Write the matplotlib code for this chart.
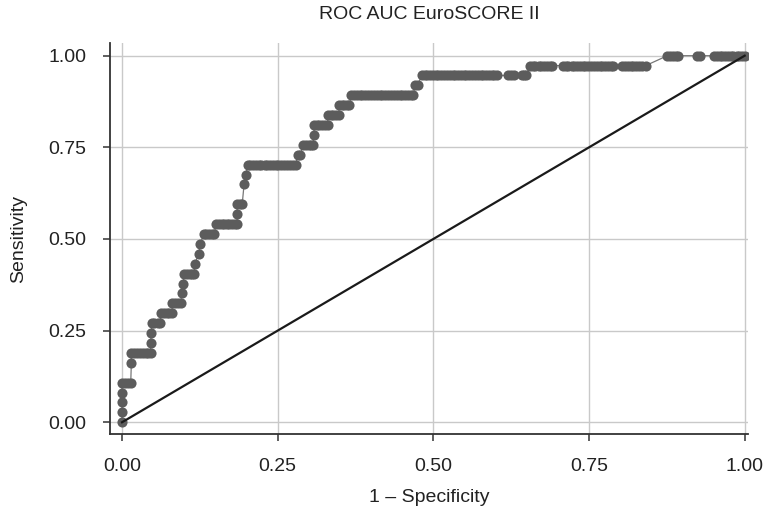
import numpy as np
import matplotlib
matplotlib.use("Agg")
import matplotlib.pyplot as plt

# ROC points, grouped by sensitivity level (k positives of 37)
n_pos = 37
levels = [0, 1, 2, 3, 4, 6, 7, 8, 9, 10, 11, 12, 13, 14, 15, 16, 17, 18, 19, 20,
          21, 22, 24, 25, 26, 27, 28, 29, 30, 31, 32, 33, 34, 35, 36, 37]
fpr_runs = [
    [0.0],
    [0.0],
    [0.0],
    [0.0],
    [0.0, 0.005, 0.009, 0.014],
    [0.015],
    [0.015, 0.020, 0.024, 0.029, 0.033, 0.038, 0.042, 0.046],
    [0.046],
    [0.047],
    [0.048, 0.052, 0.057, 0.061],
    [0.063, 0.067, 0.072, 0.076, 0.080],
    [0.081, 0.085, 0.090, 0.094],
    [0.096],
    [0.098],
    [0.100, 0.104, 0.109, 0.113, 0.116],
    [0.117],
    [0.123],
    [0.126],
    [0.131, 0.135, 0.140, 0.144, 0.148],
    [0.151, 0.155, 0.160, 0.164, 0.168, 0.172, 0.177, 0.181, 0.185],
    [0.185],
    [0.185, 0.189, 0.193],
    [0.196],
    [0.199],
    [0.202, 0.206, 0.211, 0.215, 0.220, 0.224, 0.229, 0.233, 0.238, 0.242,
     0.247, 0.251, 0.256, 0.260, 0.265, 0.270, 0.274, 0.279],
    [0.282, 0.286],
    [0.291, 0.295, 0.300, 0.304, 0.307],
    [0.308],
    [0.309, 0.313, 0.317, 0.321, 0.326, 0.330],
    [0.331, 0.335, 0.339, 0.344, 0.348],
    [0.349, 0.353, 0.357, 0.361, 0.365],
    [0.368, 0.373, 0.377, 0.382, 0.386, 0.391, 0.395, 0.400, 0.405, 0.409,
     0.414, 0.418, 0.423, 0.427, 0.432, 0.436, 0.441, 0.446, 0.450, 0.455,
     0.459, 0.464, 0.468],
    [0.470, 0.475],
    [0.481, 0.486, 0.490, 0.495, 0.499, 0.504, 0.508, 0.513, 0.517, 0.522,
     0.526, 0.531, 0.535, 0.540, 0.544, 0.549, 0.553, 0.558, 0.562, 0.567,
     0.571, 0.576, 0.580, 0.585, 0.589, 0.594, 0.598, 0.603, 0.620, 0.625,
     0.629, 0.642, 0.646, 0.649],
    [0.655, 0.660, 0.664, 0.669, 0.673, 0.678, 0.682, 0.687, 0.691, 0.708,
     0.713, 0.717, 0.722, 0.726, 0.731, 0.735, 0.740, 0.744, 0.749, 0.753,
     0.758, 0.762, 0.767, 0.771, 0.776, 0.780, 0.785, 0.789, 0.803, 0.808,
     0.812, 0.817, 0.821, 0.826, 0.830, 0.835, 0.841],
    [0.876, 0.880, 0.885, 0.889, 0.893, 0.924, 0.929, 0.951, 0.955, 0.960,
     0.964, 0.969, 0.973, 0.978, 0.982, 0.987, 0.991, 0.996, 1.0],
]

fpr = []
tpr = []
for k, run in zip(levels, fpr_runs):
    for x in run:
        fpr.append(x)
        tpr.append(k / n_pos)

tick_vals = [0.0, 0.25, 0.5, 0.75, 1.0]
tick_labels = ["0.00", "0.25", "0.50", "0.75", "1.00"]

plt.rcParams["font.family"] = ["Liberation Sans", "DejaVu Sans"]

fig = plt.figure(figsize=(7.63, 5.11), dpi=100)
ax = fig.add_axes([110 / 763, 1 - 434 / 511, 638 / 763, 391 / 511])

ax.plot(fpr, tpr, color="#777777", lw=0.9, zorder=2)
ax.plot(fpr, tpr, ls="none", marker="o", ms=7.3, color="#5c5c5c", mec="none", zorder=3)
ax.plot([0, 1], [0, 1], color="#1a1a1a", lw=1.6, zorder=4)

ax.set_xlim(-0.0193, 1.0053)
ax.set_ylim(-0.032, 1.0346)
ax.set_xticks(tick_vals)
ax.set_xticklabels(tick_labels)
ax.set_yticks(tick_vals)
ax.set_yticklabels(tick_labels)
ax.grid(True, color="#c9c9c9", lw=1.0)
ax.set_axisbelow(True)

for side in ["top", "right"]:
    ax.spines[side].set_visible(False)
for side in ["left", "bottom"]:
    ax.spines[side].set_color("#333333")
    ax.spines[side].set_linewidth(1.3)

ax.tick_params(axis="both", direction="out", length=5, width=1.1, color="#333333",
               labelsize=14, labelcolor="#222222")
ax.tick_params(axis="x", pad=12)
ax.tick_params(axis="y", pad=12)

ax.set_title("ROC AUC EuroSCORE II", fontsize=14, color="#222222", pad=17)
ax.set_xlabel("1 \u2013 Specificity", fontsize=14, color="#222222", labelpad=10)
ax.set_ylabel("Sensitivity", fontsize=14, color="#222222", labelpad=15)

fig.savefig("out.png", dpi=100)
